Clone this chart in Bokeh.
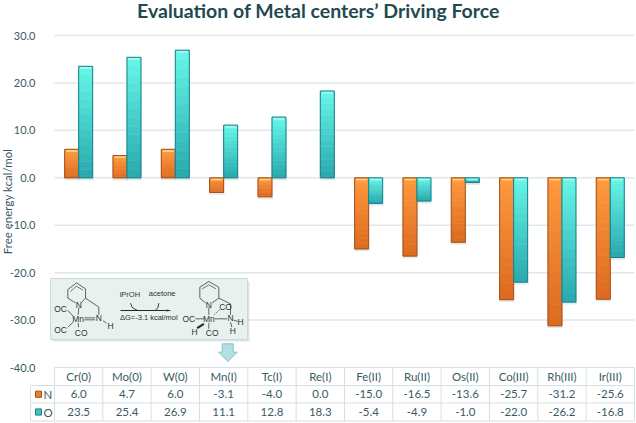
from bokeh.plotting import figure
from bokeh.models import Range1d, FixedTicker, NumeralTickFormatter
from bokeh.core.properties import value
from bokeh.embed import file_html
from bokeh.resources import INLINE

categories = ["Cr(0)", "Mo(0)", "W(0)", "Mn(I)", "Tc(I)", "Re(I)", "Fe(II)", "Ru(II)", "Os(II)", "Co(III)", "Rh(III)", "Ir(III)"]
n_values = [6.0, 4.7, 6.0, -3.1, -4.0, 0.0, -15.0, -16.5, -13.6, -25.7, -31.2, -25.6]
o_values = [23.5, 25.4, 26.9, 11.1, 12.8, 18.3, -5.4, -4.9, -1.0, -22.0, -26.2, -16.8]
y_ticks = [30, 20, 10, 0, -10, -20, -30, -40]
title_text = "Evaluation of Metal centers\u2019 Driving Force"
y_label = "Free energy kcal/mol"

W, H = 636, 423
COL = 48.33
PXU = 4.743
X = lambda rx: (rx - 54) / COL
Y = lambda ry: 30 - (ry - 35) / PXU

TEXT = "#3a5a64"
GRID = "#dfe8ea"
TBL = "#d3e1e4"
FONT = value("Lato")
CHEM = value("Liberation Sans")

p = figure(width=W, height=H, output_backend="svg", toolbar_location=None,
           x_range=Range1d(X(0), X(W)), y_range=Range1d(Y(H), Y(0)),
           min_border=0, y_axis_location="left", x_axis_location=None)
p.outline_line_color = None
p.grid.visible = False

ax = p.yaxis[0]
ax.fixed_location = X(41)
ax.ticker = FixedTicker(ticks=y_ticks)
ax.formatter = NumeralTickFormatter(format="0.0")
ax.axis_line_color = None
ax.major_tick_line_color = None
ax.minor_tick_line_color = None
ax.major_label_standoff = 0
ax.major_label_text_font = "Lato"
ax.major_label_text_font_size = "11px"
ax.major_label_text_color = TEXT

# chart title
p.text([X(318)], [Y(10)], text=[title_text], text_font=FONT, text_font_size="19.5px", text_font_style="bold",
       text_color="#1f4a52", text_align="center", text_baseline="middle")

# gridlines
grid_y = [t for t in y_ticks if t != -40]
p.segment(x0=[0] * len(grid_y), x1=[12] * len(grid_y), y0=grid_y, y1=grid_y, line_color=GRID, line_width=1.5)

# bars
BW = 14 / COL


def mix(c1, c2, t):
    a = [int(c1[i:i + 2], 16) for i in (1, 3, 5)]
    b = [int(c2[i:i + 2], 16) for i in (1, 3, 5)]
    return "#%02x%02x%02x" % tuple(round(a[k] + (b[k] - a[k]) * t) for k in range(3))


def bars(values, offset, start, end, line, strip):
    steps = 14
    for i, v in enumerate(values):
        if v == 0:
            continue
        c = i + 0.5 + offset
        l, r = c - BW / 2, c + BW / 2
        # soft shadow below the bar
        lo = min(v, 0)
        p.quad(left=[l - 0.01], right=[r + 0.02], top=[lo], bottom=[lo - 0.5], fill_color="#8a9a9c", fill_alpha=0.22, line_color=None)
        ls, rs, ts, bs, cs = [], [], [], [], []
        for k in range(steps):
            y0 = v * k / steps
            y1 = v * (k + 1) / steps
            ls.append(l); rs.append(r)
            ts.append(max(y0, y1)); bs.append(min(y0, y1))
            frac = (k + 0.5) / steps
            cs.append(mix(start, end, 1 - frac if v > 0 else frac))
        p.quad(left=ls, right=rs, top=ts, bottom=bs, fill_color=cs, line_color=cs, line_width=0.6)
        edge = v if v > 0 else 0
        p.quad(left=[l + 0.03], right=[r - 0.03], top=[edge - 0.15], bottom=[edge - 0.55], fill_color=strip, line_color=None, fill_alpha=0.8)
        p.quad(left=[l], right=[r], top=[max(v, 0)], bottom=[min(v, 0)], fill_color=None, line_color=line, line_width=1)


bars(n_values, -BW / 2, "#ff9a3e", "#dc6a20", "#a4501c", "#f8dc84")
bars(o_values, BW / 2, "#66f7e8", "#27a8ae", "#1b7f8a", "#b8f9f0")

# scheme inset
box_l, box_r, box_t, box_b = X(50), X(247), Y(278), Y(339)
p.quad(left=[X(52)], right=[X(249)], top=[Y(281)], bottom=[Y(341)], fill_color="#b9c6c6", fill_alpha=0.45, line_color=None)
p.quad(left=[box_l], right=[box_r], top=[box_t], bottom=[box_b], fill_color="#e9f1ef", line_color="#cbd9d7", line_width=1)


def z5(x, y):
    return 50 + x / 3, 275 + y / 3


def z6(x, y):
    return 150 + x / 3, 275 + y / 3


def z4(x, y):
    return 40 + x / 3, 270 + y / 3


def chain(pts, conv, width=0.9, color="#4c5658", dash="solid"):
    xs = [X(conv(*q)[0]) for q in pts]
    ys = [Y(conv(*q)[1]) for q in pts]
    p.line(xs, ys, line_color=color, line_width=width, line_dash=dash)


def chem_text(txts, conv, size="8.5px"):
    xs = [X(conv(a, b)[0]) for a, b, _ in txts]
    ys = [Y(conv(a, b)[1]) for a, b, _ in txts]
    ss = [c for _, _, c in txts]
    p.text(xs, ys, text=ss, text_font=CHEM, text_font_size=size, text_color="#2b3133",
           text_align="center", text_baseline="middle")


for conv, pts in ((z5, [(75, 82), (52, 68), (52, 42), (78, 22), (105, 40), (105, 68), (92, 82)]),
                  (z6, [(165, 82), (148, 68), (148, 35), (175, 18), (205, 35), (205, 68), (185, 82)])):
    chain(pts, conv)
chain([(60, 48), (78, 32), (97, 44)], z5, 0.8)
chain([(155, 40), (175, 28), (197, 40)], z6, 0.8)
chain([(105, 68), (145, 95), (145, 118)], z5)
chain([(205, 68), (240, 85), (240, 118)], z6)
chain([(85, 96), (83, 118)], z5)
chain([(52, 105), (68, 122)], z5)
chain([(52, 155), (68, 140)], z5)
chain([(83, 142), (84, 155)], z5)
chain([(102, 127), (134, 127)], z5)
chain([(102, 133), (134, 133)], z5)
chain([(158, 136), (168, 143)], z5)
chain([(175, 95), (175, 118)], z6)
chain([(135, 130), (160, 130)], z6)
chain([(192, 130), (230, 130)], z6)
chain([(175, 142), (175, 160)], z6)
chain([(190, 118), (208, 102)], z6, 1, "#6a7274", "2 1")
chain([(250, 134), (262, 138)], z6)
chain([(240, 140), (244, 155)], z6)
chain([(160, 145), (140, 158)], z6, 2.2, "#25292a")
chain([(240, 120), (385, 120)], z4, 1.1, "#222728")
xa, ya = z4(393, 120)
xb, yb = z4(378, 117)
xc, yc = z4(378, 123)
p.patch([X(xa), X(xb), X(xc)], [Y(ya), Y(yb), Y(yc)], fill_color="#222728", line_color=None)
chain([(270, 98), (276, 112), (290, 119)], z4, 0.9, "#222728")
chain([(345, 119), (352, 112), (355, 98)], z4, 0.9, "#222728")

chem_text([(30, 100, "OC"), (30, 162, "OC"), (83, 130, "Mn"), (85, 88, "N"), (145, 128, "N"), (180, 150, "H"), (92, 172, "CO")], z5)
chem_text([(115, 130, "OC"), (175, 130, "Mn"), (175, 87, "N"), (225, 93, "CO"), (240, 128, "N"), (270, 140, "H"), (247, 165, "H"), (132, 170, "H"), (185, 172, "CO")], z6)
chem_text([(268, 72, "iPrOH"), (365, 70, "acetone")], z4, "7.5px")
chem_text([(325, 142, "\u0394G=-3.1 kcal/mol")], z4, "7.5px")

# down arrow above the table
ax_pts = [(665, 250), (698, 250), (698, 275), (710, 275), (682, 303), (655, 275), (665, 275)]
p.patch([X(a / 3) for a, _ in ax_pts], [Y(260 + b / 3) for _, b in ax_pts], fill_color="#b4dfe3", line_color="#84c0cb", line_width=1)

# data table
rows_y = [Y(367), Y(385), Y(402.5), Y(420.5)]
centers = [i + 0.5 for i in range(12)]
p.segment(x0=[0] + [X(30)] * 3, x1=[12] * 4, y0=rows_y, y1=rows_y, line_color=TBL, line_width=1)
p.segment(x0=list(range(13)), x1=list(range(13)), y0=[rows_y[0]] * 13, y1=[rows_y[3]] * 13, line_color=TBL, line_width=1)
p.segment(x0=[X(30)], x1=[X(30)], y0=[rows_y[1]], y1=[rows_y[3]], line_color=TBL, line_width=1)

row_mid = [(rows_y[k] + rows_y[k + 1]) / 2 for k in range(3)]
tk = dict(text_font=FONT, text_font_size="11.5px", text_color=TEXT, text_align="center", text_baseline="middle")
p.text(centers, [row_mid[0]] * 12, text=categories, **tk)
p.text(centers, [row_mid[1]] * 12, text=["%.1f" % v for v in n_values], **tk)
p.text(centers, [row_mid[2]] * 12, text=["%.1f" % v for v in o_values], **tk)
p.text([X(47.5)] * 2, row_mid[1:], text=["N", "O"], **tk)
p.quad(left=[X(35)] * 2, right=[X(41)] * 2, top=[row_mid[1] + 0.65, row_mid[2] + 0.65], bottom=[row_mid[1] - 0.65, row_mid[2] - 0.65],
       fill_color=["#ee7d24", "#38c4c2"], line_color=["#a4501c", "#1b7f8a"], line_width=1)

# y axis title
p.text([X(7)], [Y(201)], text=[y_label], angle=1.5708, text_font=FONT, text_font_size="11.5px", text_color=TEXT,
       text_align="center", text_baseline="middle")

open("out.html", "w").write(file_html(p, INLINE))
